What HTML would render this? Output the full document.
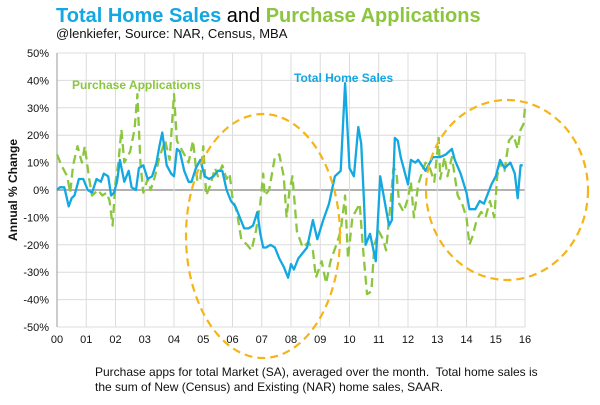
<!DOCTYPE html>
<html><head><meta charset="utf-8"><style>
html,body{margin:0;padding:0;background:#fff;}
svg{display:block;font-family:"Liberation Sans",Arial,sans-serif;}
</style></head><body>
<svg id="chart" width="600" height="405" viewBox="0 0 600 405">
<text x="56" y="22" font-size="20" font-weight="bold"><tspan fill="#13a8e1">Total Home Sales</tspan><tspan fill="#000" font-weight="normal"> and </tspan><tspan fill="#8cc63f">Purchase Applications</tspan></text>
<text x="56" y="38" font-size="13" fill="#111">@lenkiefer, Source: NAR, Census, MBA</text>
<text transform="translate(17,190) rotate(-90)" text-anchor="middle" font-size="12" font-weight="bold" fill="#111">Annual % Change</text>
<g id="grid"></g><g id="axes"></g><g id="series"></g>
<text x="72" y="89" font-size="12" font-weight="bold" fill="#8cc63f">Purchase Applications</text>
<text x="294" y="82" font-size="12" font-weight="bold" fill="#13a8e1">Total Home Sales</text>
<ellipse cx="263" cy="236" rx="77" ry="122" fill="none" stroke="#f5b417" stroke-width="2.2" stroke-dasharray="8,5"/>
<ellipse cx="507" cy="190" rx="81" ry="90" fill="none" stroke="#f5b417" stroke-width="2.2" stroke-dasharray="8,5"/>
<text x="95" y="376" font-size="12" fill="#111" xml:space="preserve">Purchase apps for total Market (SA), averaged over the month.  Total home sales is</text>
<text x="95" y="391" font-size="12" fill="#111">the sum of New (Census) and Existing (NAR) home sales, SAAR.</text>
</svg>
<script>
const yTicks=[50,40,30,20,10,0,-10,-20,-30,-40,-50];
const xYears=[2000,2001,2002,2003,2004,2005,2006,2007,2008,2009,2010,2011,2012,2013,2014,2015,2016];
const xLabels=["00","01","02","03","04","05","06","07","08","09","10","11","12","13","14","15","16"];
const salesT=[2000,2000.1,2000.25,2000.4,2000.5,2000.6,2000.75,2000.9,2001.05,2001.2,2001.35,2001.5,2001.6,2001.75,2001.85,2001.95,2002.05,2002.15,2002.3,2002.45,2002.55,2002.7,2002.8,2002.95,2003.1,2003.25,2003.4,2003.5,2003.6,2003.75,2003.9,2004.0,2004.1,2004.2,2004.35,2004.5,2004.6,2004.75,2004.9,2005.05,2005.2,2005.35,2005.5,2005.65,2005.8,2005.95,2006.1,2006.25,2006.4,2006.55,2006.7,2006.85,2006.95,2007.05,2007.15,2007.3,2007.45,2007.6,2007.75,2007.9,2008.0,2008.1,2008.25,2008.4,2008.55,2008.75,2008.9,2009.1,2009.3,2009.5,2009.7,2009.85,2010.0,2010.15,2010.3,2010.4,2010.5,2010.55,2010.7,2010.9,2011.05,2011.2,2011.35,2011.45,2011.55,2011.65,2011.75,2012.0,2012.1,2012.25,2012.35,2012.6,2012.85,2013.1,2013.3,2013.5,2013.6,2013.8,2014.0,2014.1,2014.3,2014.45,2014.6,2014.85,2015.0,2015.15,2015.3,2015.5,2015.65,2015.75,2015.85,2015.92,2016.0];
const salesV=[0,1,1,-6,-3,-2,4,4,0,-1,4,3,6,5,-2,-1,3,11,3,7,1,0,8,9,4,5,10,16,21,9,6,5,15,14,7,3,3,8,11,5,4,5,7,7,0,-4,-6,-10,-14,-14,-13,-8,-16,-21,-21,-20,-21,-25,-28,-32,-27,-29,-25,-23,-21,-11,-18,-11,-5,5,7,39,8,5,23,17,-5,-20,-16,-26,5,-4,-13,-11,19,18,12,2,11,10,11,7,12,12,13,15,11,6,-1,-7,-7,-4,-5,2,5,11,8,10,6,-3,9,9];
const appsT=[2000,2000.15,2000.35,2000.45,2000.55,2000.7,2000.85,2000.95,2001.1,2001.2,2001.4,2001.55,2001.7,2001.8,2001.9,2002.0,2002.1,2002.2,2002.3,2002.5,2002.65,2002.75,2002.85,2002.95,2003.1,2003.2,2003.35,2003.5,2003.7,2003.85,2004.0,2004.1,2004.25,2004.4,2004.5,2004.65,2004.8,2004.9,2005.0,2005.1,2005.25,2005.4,2005.5,2005.65,2005.8,2005.9,2006.0,2006.15,2006.3,2006.5,2006.65,2006.8,2006.95,2007.05,2007.1,2007.25,2007.45,2007.6,2007.75,2007.85,2007.95,2008.05,2008.2,2008.4,2008.6,2008.75,2008.85,2009.05,2009.2,2009.35,2009.55,2009.7,2009.85,2009.95,2010.1,2010.25,2010.35,2010.45,2010.6,2010.75,2010.85,2011.0,2011.15,2011.25,2011.4,2011.5,2011.6,2011.7,2011.85,2012.0,2012.1,2012.2,2012.35,2012.5,2012.6,2012.75,2012.9,2013.05,2013.1,2013.25,2013.35,2013.5,2013.7,2013.85,2014.0,2014.1,2014.2,2014.35,2014.5,2014.65,2014.8,2014.95,2015.05,2015.15,2015.3,2015.45,2015.6,2015.75,2015.85,2015.95,2016.0];
const appsV=[13,9,5,-1,9,16,10,16,4,-2,0,-2,-1,-4,-13,3,10,22,10,14,22,35,10,-1,4,0,5,12,18,11,35,18,15,12,10,18,3,4,16,-2,2,8,5,9,4,6,-3,-8,-18,-20,-22,-15,-5,6,-2,0,12,13,5,-10,0,5,-15,-21,-19,-22,-32,-26,-34,-26,-20,-15,-2,-25,-10,-7,-5,-20,-38,-37,-20,-15,-18,-22,-5,8,7,-5,-8,-3,3,-10,2,7,10,8,3,19,4,12,5,12,-2,-5,-10,-20,-17,-11,-8,-10,-4,-10,5,10,7,18,20,15,22,24,30];
const X0=57,X1=525,Y0=190,YS=2.74;
function xs(t){return X0+(t-2000)*(X1-X0)/16;}
function ys(v){return Y0-v*YS;}
const NS="http://www.w3.org/2000/svg";
const grid=document.getElementById('grid'),axes=document.getElementById('axes'),ser=document.getElementById('series');
yTicks.forEach(v=>{
  const l=document.createElementNS(NS,'line');
  
  
  l.setAttribute('x1',X0);l.setAttribute('x2',X1);l.setAttribute('y1',ys(v));l.setAttribute('y2',ys(v));
  l.setAttribute('stroke',v===0?'#999':'#dcdcdc');l.setAttribute('stroke-width',v===0?1.5:1);
  grid.appendChild(l);
  const t=document.createElementNS(NS,'text');
  
  
  t.setAttribute('x',X0-8);t.setAttribute('y',ys(v)+4);t.setAttribute('text-anchor','end');t.setAttribute('font-size','11');t.setAttribute('fill','#111');
  t.textContent=v+'%';axes.appendChild(t);
});
xYears.forEach((yr,i)=>{
  const l=document.createElementNS(NS,'line');
  
  
  l.setAttribute('x1',xs(yr));l.setAttribute('x2',xs(yr));l.setAttribute('y1',ys(50));l.setAttribute('y2',ys(-50));
  l.setAttribute('stroke',i===0?'#999':'#dcdcdc');l.setAttribute('stroke-width','1');
  grid.appendChild(l);
  const t=document.createElementNS(NS,'text');
  
  
  t.setAttribute('x',xs(yr));t.setAttribute('y',ys(-50)+16);t.setAttribute('text-anchor','middle');t.setAttribute('font-size','11');t.setAttribute('fill','#111');
  t.textContent=xLabels[i];axes.appendChild(t);
});
function line(T,V,color,dash,name){
  const p=document.createElementNS(NS,'polyline');
  
  
  p.setAttribute('points',T.map((t,i)=>xs(t).toFixed(1)+','+ys(V[i]).toFixed(1)).join(' '));
  p.setAttribute('fill','none');p.setAttribute('stroke',color);p.setAttribute('stroke-width','2.3');p.setAttribute('stroke-linejoin','round');
  if(dash)p.setAttribute('stroke-dasharray',dash);
  ser.appendChild(p);
}
line(appsT,appsV,'#8cc63f','9,5','purchase-applications-line');
line(salesT,salesV,'#13a8e1',null,'total-home-sales-line');
</script>
</body></html>
